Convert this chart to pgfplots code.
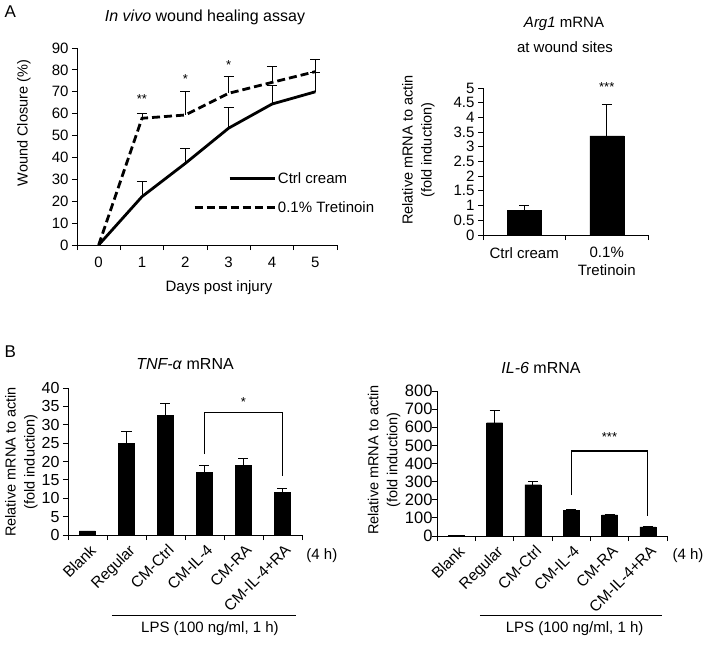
\documentclass[border=0pt]{standalone}
\usepackage{fontspec}
\setmainfont{Liberation Sans}
\usepackage{pgfplots}
\pgfplotsset{compat=1.18}
\begin{document}
\begin{tikzpicture}[font=\fontsize{15bp}{18bp}\selectfont]
\useasboundingbox (0,0) rectangle (704bp,-645bp);
\pgfplotsset{
  myax/.style={
    scale only axis, anchor=south west,
    axis x line*=bottom, axis y line*=left,
    axis line style={line width=0.9bp, -},
    tick align=outside,
    major tick length=5bp, minor tick length=5bp,
    every tick/.append style={line width=0.9bp, black},
    major x tick style={draw=none},
    tick label style={font=\fontsize{15bp}{18bp}\selectfont},
    /pgf/number format/assume math mode=true,
    clip=false,
    ylabel style={anchor=center, align=center, font=\fontsize{14.5bp}{19bp}\selectfont},
  },
  errb/.style={error bars/.cd, y dir=plus, y explicit,
    error bar style={line width=0.9bp, solid, black},
    error mark options={rotate=90, line width=0.9bp, black, mark size=5bp, solid}},
}
% ---- titles and panel letters
\node[anchor=base west, font=\fontsize{17bp}{20bp}\selectfont] at (1bp,-17bp) {A};
\node[anchor=base west, font=\fontsize{17bp}{20bp}\selectfont] at (1bp,-357bp) {B};
\node[anchor=base, font=\fontsize{16bp}{19bp}\selectfont] at (205bp,-21bp) {\textit{In vivo} wound healing assay};
\node[anchor=base, font=\fontsize{15bp}{18bp}\selectfont] at (564bp,-27bp) {\textit{Arg1} mRNA};
\node[anchor=base, font=\fontsize{15bp}{18bp}\selectfont] at (565bp,-52bp) {at wound sites};
\node[anchor=base, font=\fontsize{16bp}{19bp}\selectfont] at (185bp,-369bp) {\textit{TNF-α} mRNA};
\node[anchor=base, font=\fontsize{16bp}{19bp}\selectfont] at (541bp,-373bp) {\textit{IL-6} mRNA};

% ---- Panel A left: wound closure
\begin{axis}[myax, at={(77bp,-245bp)}, width=260bp, height=197bp,
  xmin=-0.5, xmax=5.5, ymin=0, ymax=90,
  xtick={0,1,2,3,4,5}, minor xtick={-0.5,0.5,1.5,2.5,3.5,4.5,5.5},
  xticklabel style={yshift=-4bp},
  ytick={0,10,...,90},
  xlabel={Days post injury},
  xlabel style={at={(axis description cs:0.546,-0.215)}, anchor=center},
  ylabel={Wound Closure (\%)},
  ylabel style={at={(axis description cs:-0.204,0.619)}},
  legend cell align=left,
  legend style={draw=none, fill=none, inner sep=0pt,
    at={(axis description cs:0.446,0.380)}, anchor=north west,
    row sep=13bp, nodes={inner sep=2bp}, font=\fontsize{15bp}{18bp}\selectfont}]
\addplot[black, line width=2.8bp,
  legend image code/.code={\draw[black, line width=2.8bp] (0bp,0bp) -- (45bp,0bp);},
  errb] table[x=x, y=y, y error=e] {
x y e
0 0 0
1 22.1 6.8
2 37.3 6.9
3 53.4 9.3
4 64.4 8.7
5 70.0 8.9
};
\addlegendentry{Ctrl cream}
\addplot[black, line width=2.8bp, dash pattern=on 8bp off 4bp,
  legend image code/.code={\draw[black, line width=2.8bp, dash pattern=on 8bp off 4bp] (-35bp,0bp) -- (45bp,0bp);},
  errb] table[x=x, y=y, y error=e] {
x y e
0 0 0
1 57.9 2.3
2 59.4 10.6
3 69.3 7.8
4 74.3 7.5
5 79.2 5.6
};
\addlegendentry{0.1\% Tretinoin}
\node[font=\fontsize{13bp}{13bp}\selectfont] at (axis cs:1,66.5) {**};
\node[font=\fontsize{13bp}{13bp}\selectfont] at (axis cs:2,75.8) {*};
\node[font=\fontsize{13bp}{13bp}\selectfont] at (axis cs:3,82.2) {*};
\end{axis}

% ---- Panel A right: Arg1
\begin{axis}[myax, at={(483bp,-235bp)}, width=165bp, height=147bp,
  xmin=-0.5, xmax=1.5, ymin=0, ymax=5,
  xtick={0,1}, minor xtick={-0.5,0.5,1.5},
  xticklabels={Ctrl cream,{0.1\%\\Tretinoin}},
  xticklabel style={align=center, yshift=-4bp},
  ytick={0,0.5,1,1.5,2,2.5,3,3.5,4,4.5,5},
  yticklabels={0,0.5,1,1.5,2,2.5,3,3.5,4,4.5,5},
  ylabel={Relative mRNA to actin\\(fold induction)},
  ylabel style={at={(axis description cs:-0.391,0.578)}}]
\addplot[ybar, bar width=34bp, fill=black, draw=black, errb] table[x=x, y=y, y error=e] {
x y e
0 0.83 0.19
1 3.37 1.06
};
\node[font=\fontsize{13bp}{13bp}\selectfont] at (axis cs:1,5.05) {***};
\end{axis}

% ---- Panel B left: TNF-alpha
\begin{axis}[myax, at={(68bp,-535bp)}, width=234bp, height=147bp,
  xmin=-0.5, xmax=5.5, ymin=0, ymax=40,
  xtick={0,1,2,3,4,5}, minor xtick={-0.5,0.5,1.5,2.5,3.5,4.5,5.5},
  xticklabels={Blank,Regular,CM-Ctrl,CM-IL-4,CM-RA,CM-IL-4+RA},
  xticklabel style={rotate=45, anchor=north east, xshift=2bp, font=\fontsize{15.5bp}{18bp}\selectfont},
  yticklabel style={font=\fontsize{16bp}{18bp}\selectfont},
  ytick={0,5,...,40},
  ylabel={Relative mRNA to actin\\(fold induction)},
  ylabel style={at={(axis description cs:-0.199,0.497)}}]
\addplot[ybar, bar width=16bp, fill=black, draw=black, errb] table[x=x, y=y, y error=e] {
x y e
0 1.1 0
1 25.0 3.2
2 32.5 3.4
3 17.0 1.8
4 19.0 1.7
5 11.7 0.9
};
\addplot[black, line width=1.3bp, sharp plot, mark=none] coordinates {(3,22) (3,33.4) (5,33.4) (5,16)};
\node[font=\fontsize{13bp}{13bp}\selectfont] at (axis cs:4,36.2) {*};
\node at (axis cs:6.01,-5.7) {(4 h)};
\draw[line width=1bp] (axis cs:0.628,-21.8) -- (axis cs:5.346,-21.8);
\node at (axis cs:3.14,-25.6) {LPS (100 ng/ml, 1 h)};
\end{axis}

% ---- Panel B right: IL-6
\begin{axis}[myax, at={(437bp,-536bp)}, width=230bp, height=145bp,
  xmin=-0.5, xmax=5.5, ymin=0, ymax=800,
  xtick={0,1,2,3,4,5}, minor xtick={-0.5,0.5,1.5,2.5,3.5,4.5,5.5},
  xticklabels={Blank,Regular,CM-Ctrl,CM-IL-4,CM-RA,CM-IL-4+RA},
  xticklabel style={rotate=45, anchor=north east, xshift=2bp, font=\fontsize{15.5bp}{18bp}\selectfont},
  yticklabel style={font=\fontsize{16.5bp}{18bp}\selectfont, xshift=4bp},
  ytick={0,100,...,800},
  ylabel={Relative mRNA to actin\\(fold induction)},
  ylabel style={at={(axis description cs:-0.230,0.524)}}]
\addplot[ybar, bar width=16bp, fill=black, draw=black, errb] table[x=x, y=y, y error=e] {
x y e
0 3 0
1 625 66
2 283 20
3 143 3
4 116 2
5 50 2
};
\addplot[black, line width=1.3bp, sharp plot, mark=none] coordinates {(3,226) (3,469) (5,469) (5,110)};
\node[font=\fontsize{13bp}{13bp}\selectfont] at (axis cs:4,548) {***};
\node at (axis cs:6.05,-110) {(4 h)};
\draw[line width=1bp] (axis cs:0.62,-436) -- (axis cs:5.37,-436);
\node at (axis cs:3.09,-513) {LPS (100 ng/ml, 1 h)};
\end{axis}
\end{tikzpicture}
\end{document}
